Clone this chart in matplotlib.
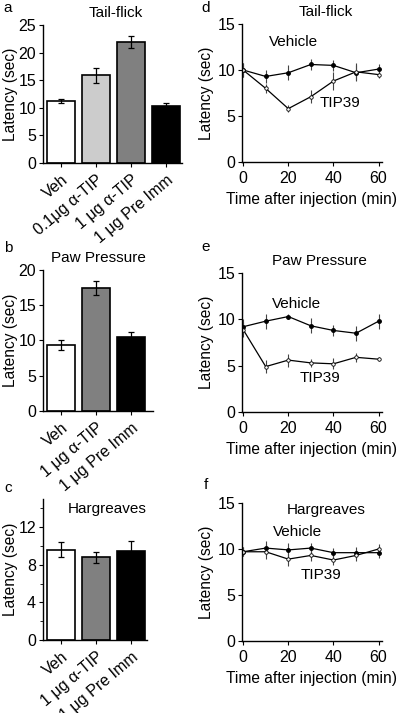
import matplotlib
matplotlib.use("Agg")
from matplotlib import pyplot as plt
from matplotlib.ticker import MultipleLocator

plt.rcParams['font.family'] = ['Liberation Sans', 'DejaVu Sans']
plt.rcParams['font.size'] = 10

# -------- data ----------#
# bar panels (a, b, c)
labels_a = ['Veh', '0.1μg α-TIP', '1 μg α-TIP', '1 μg Pre Imm']
vals_a = [11.2, 15.9, 21.9, 10.3]
err_a = [0.4, 1.4, 1.1, 0.6]
cols_a = ['white', '#cccccc', '#808080', 'black']

labels_b = ['Veh', '1 μg α-TIP', '1 μg Pre Imm']
vals_b = [9.4, 17.5, 10.5]
err_b = [0.7, 1.0, 0.7]
cols_b = ['white', '#808080', 'black']

labels_c = ['Veh', '1 μg α-TIP', '1 μg Pre Imm']
vals_c = [9.6, 8.8, 9.5]
err_c = [0.8, 0.6, 1.0]
cols_c = ['white', '#808080', 'black']

# time course panels (d, e, f)
time = [0, 10, 20, 30, 40, 50, 60]

veh_d = [10.0, 9.3, 9.7, 10.6, 10.5, 9.7, 10.1]
veh_d_err = [0.8, 0.7, 0.8, 0.6, 0.6, 0.8, 0.5]
tip_d = [10.0, 8.0, 5.8, 7.1, 8.8, 9.8, 9.5]
tip_d_err = [0.8, 0.5, 0.4, 0.7, 1.0, 1.0, 0.4]

veh_e = [9.2, 9.8, 10.3, 9.3, 8.8, 8.5, 9.8]
veh_e_err = [0.8, 0.8, 0.3, 0.8, 0.6, 0.8, 0.8]
tip_e = [8.9, 4.9, 5.6, 5.3, 5.2, 5.9, 5.7]
tip_e_err = [0.8, 0.7, 0.7, 0.4, 0.6, 0.5, 0.2]

veh_f = [9.7, 10.1, 9.9, 10.1, 9.6, 9.6, 9.6]
veh_f_err = [0.5, 0.8, 0.8, 0.5, 0.5, 0.6, 0.6]
tip_f = [9.7, 9.7, 8.9, 9.3, 8.8, 9.3, 10.0]
tip_f_err = [0.5, 0.8, 0.7, 0.6, 0.5, 0.6, 0.5]
# -------- data end ----------#

W, H = 400, 713
fig = plt.figure(figsize=(W / 100, H / 100), dpi=100)


def px_axes(left, right, top, bottom):
    ax = fig.add_axes([left / W, 1 - bottom / H, (right - left) / W, (bottom - top) / H])
    ax._px_left = left
    ax._px_width = right - left
    return ax


def style(ax):
    for s in ['top', 'right']:
        ax.spines[s].set_visible(False)
    ax.spines['left'].set_linewidth(1.0)
    ax.spines['bottom'].set_linewidth(1.0)
    ax.tick_params(direction='out', length=3, width=0.8, labelsize=11.5)
    ax.tick_params(axis='y', pad=2)


def put_ylabel(ax, xpx):
    # xpx = right edge of the rotated label, in pixels
    ax.set_ylabel('Latency (sec)', fontsize=11.2)
    ax.yaxis.set_label_coords((xpx - ax._px_left) / ax._px_width, 0.5)


def bar_panel(ax, labels, vals, err, cols, ymax, xmax):
    x = range(len(vals))
    ax.bar(x, vals, width=0.8, color=cols, edgecolor='black', linewidth=1.2,
           yerr=err, error_kw=dict(ecolor='black', elinewidth=0.9, capsize=2, capthick=0.9))
    ax.set_xlim(-0.51, xmax)
    ax.set_ylim(0, ymax)
    ax.set_xticks(list(x))
    ax.set_xticklabels(labels, rotation=40, ha='right', rotation_mode='anchor', fontsize=11.5)
    ax.tick_params(axis='x', length=0)
    style(ax)
    put_ylabel(ax, 18)


def line_panel(ax, veh, veh_err, tip, tip_err):
    ax.errorbar(time, veh, yerr=veh_err, fmt='-o', color='black', ms=2.5, lw=0.9,
                elinewidth=0.8, ecolor='#444444', capsize=0, mfc='black')
    ax.errorbar(time, tip, yerr=tip_err, fmt='-o', color='black', ms=2.5, lw=0.9,
                elinewidth=0.8, ecolor='#444444', capsize=0, mfc='white', mew=0.6)
    ax.set_xlim(-0.5, 61.5)
    ax.set_ylim(0, 15)
    ax.set_xticks([0, 20, 40, 60])
    ax.set_yticks([0, 5, 10, 15])
    ax.set_xlabel('Time after injection (min)', fontsize=11.2, labelpad=4)
    style(ax)
    put_ylabel(ax, 214)


# a
ax_a = px_axes(43, 182, 25, 163)
bar_panel(ax_a, labels_a, vals_a, err_a, cols_a, 25, 3.46)
ax_a.set_yticks([0, 5, 10, 15, 20, 25])
ax_a.set_title('Tail-flick', fontsize=11, pad=6, x=0.52)

# b
ax_b = px_axes(43, 153, 270, 411)
bar_panel(ax_b, labels_b, vals_b, err_b, cols_b, 20, 2.63)
ax_b.set_yticks([0, 5, 10, 15, 20])
ax_b.set_title('Paw Pressure', fontsize=11, pad=6)

# c
ax_c = px_axes(43, 147, 499, 640)
bar_panel(ax_c, labels_c, vals_c, err_c, cols_c, 15, 2.46)
ax_c.set_yticks([0, 4, 8, 12])
ax_c.yaxis.set_minor_locator(MultipleLocator(2))
ax_c.tick_params(axis='y', which='minor', length=2, width=0.6)
ax_c.text(0.62, 0.93, 'Hargreaves', transform=ax_c.transAxes, ha='center', va='center', fontsize=11)

# d
ax_d = px_axes(242, 382, 24, 162)
line_panel(ax_d, veh_d, veh_d_err, tip_d, tip_d_err)
ax_d.set_title('Tail-flick', fontsize=11, pad=6, x=0.6)
ax_d.text(22.5, 13.0, 'Vehicle', ha='center', va='center', fontsize=11)
ax_d.text(43, 6.4, 'TIP39', ha='center', va='center', fontsize=11)

# e
ax_e = px_axes(242, 382, 273, 412)
line_panel(ax_e, veh_e, veh_e_err, tip_e, tip_e_err)
ax_e.set_title('Paw Pressure', fontsize=11, pad=6, x=0.55)
ax_e.text(23.5, 11.7, 'Vehicle', ha='center', va='center', fontsize=11)
ax_e.text(34, 3.7, 'TIP39', ha='center', va='center', fontsize=11)

# f
ax_f = px_axes(242, 382, 503, 641)
line_panel(ax_f, veh_f, veh_f_err, tip_f, tip_f_err)
ax_f.text(37, 14.2, 'Hargreaves', ha='center', va='center', fontsize=11)
ax_f.text(24, 11.8, 'Vehicle', ha='center', va='center', fontsize=11)
ax_f.text(34.5, 7.2, 'TIP39', ha='center', va='center', fontsize=11)

# panel letters
for lab, x, y in [('a', 8, 8), ('b', 8, 248), ('c', 8, 488),
                  ('d', 206, 8), ('e', 206, 247), ('f', 206, 485)]:
    fig.text(x / W, 1 - y / H, lab, ha='center', va='center', fontsize=11)

plt.savefig('out.png', dpi=100)
